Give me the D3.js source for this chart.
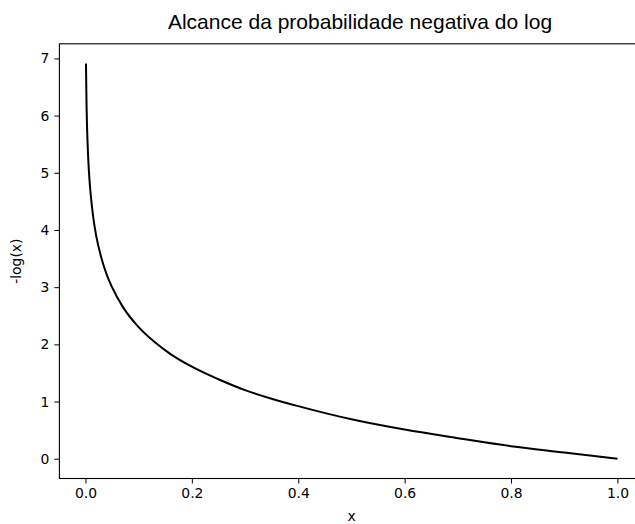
<!DOCTYPE html>
<html>
<head>
<meta charset="utf-8">
<script src="https://cdn.jsdelivr.net/npm/d3@7"></script>
<style>
html,body{margin:0;padding:0;background:#fff;}
svg{display:block;font-family:"DejaVu Sans",sans-serif;}
</style>
</head>
<body>
<svg id="chart" width="635" height="524"></svg>
<script>
// Values
const xValues = [0.001, 0.002, 0.003, 0.005, 0.0075, 0.01, 0.015, 0.02, 0.03, 0.04, 0.05, 0.07, 0.1, 0.13, 0.16, 0.2, 0.25, 0.3, 0.35, 0.4, 0.5, 0.6, 0.7, 0.8, 0.9, 1.0];
const yValues = [6.91, 6.21, 5.81, 5.30, 4.89, 4.61, 4.20, 3.91, 3.51, 3.22, 3.00, 2.66, 2.30, 2.04, 1.83, 1.61, 1.39, 1.20, 1.05, 0.92, 0.69, 0.51, 0.36, 0.22, 0.11, 0.00];
const xTicks = [0.0, 0.2, 0.4, 0.6, 0.8, 1.0];
const yTicks = [0, 1, 2, 3, 4, 5, 6, 7];
const titleText = "Alcance da probabilidade negativa do log";
const xLabel = "x";
const yLabel = "-log(x)";

const svg = d3.select("#chart");
const mLeft = 59.4, mRight = 644, mTop = 43.8, mBottom = 478.5;

const xMin = d3.min(xValues), xMax = d3.max(xValues);
const xPad = (xMax - xMin) * 0.05;
const yMin = d3.min(yValues), yMax = d3.max(yValues);
const yPad = (yMax - yMin) * 0.05;

const x = d3.scaleLinear().domain([xMin - xPad, xMax + xPad]).range([mLeft, mRight]);
const y = d3.scaleLinear().domain([yMin - yPad, yMax + yPad]).range([mBottom, mTop]);

const data = xValues.map((v, i) => ({x: v, y: yValues[i]}));

svg.append("path")
  .datum(data)
  .attr("fill", "none")
  .attr("stroke", "#000")
  .attr("stroke-width", 2)
  .attr("stroke-linejoin", "round")
  .attr("stroke-linecap", "butt")
  .attr("d", d3.line().x(d => x(d.x)).y(d => y(d.y)).curve(d3.curveMonotoneX));

const xAxis = d3.axisBottom(x).tickValues(xTicks).tickFormat(d3.format(".1f")).tickSize(5).tickPadding(5).tickSizeOuter(0);
const yAxis = d3.axisLeft(y).tickValues(yTicks).tickFormat(d3.format("d")).tickSize(5).tickPadding(5).tickSizeOuter(0);

const gx = svg.append("g").attr("transform", `translate(0,${mBottom})`).call(xAxis);
const gy = svg.append("g").attr("transform", `translate(${mLeft},0)`).call(yAxis);
[gx, gy].forEach(g => {
  g.select(".domain").remove();
  g.selectAll(".tick line").attr("stroke", "#000").attr("stroke-width", 1);
  g.selectAll(".tick text").attr("fill", "#000").style("font-size", "13.9px").style("font-family", "'DejaVu Sans', sans-serif");
});

// spines
svg.append("rect")
  .attr("x", mLeft).attr("y", mTop)
  .attr("width", mRight - mLeft).attr("height", mBottom - mTop)
  .attr("fill", "none").attr("stroke", "#000").attr("stroke-width", 1.1);

svg.append("text")
  .attr("x", 360).attr("y", 28.5)
  .attr("text-anchor", "middle")
  .style("font-family", "'Liberation Sans', Arial, sans-serif")
  .style("font-size", "21px")
  .attr("fill", "#000")
  .text(titleText);

svg.append("text")
  .attr("x", (mLeft + mRight) / 2).attr("y", 521)
  .attr("text-anchor", "middle")
  .style("font-size", "13.9px")
  .attr("fill", "#000")
  .text(xLabel);

svg.append("text")
  .attr("transform", `translate(21,${(mTop + mBottom) / 2}) rotate(-90)`)
  .attr("text-anchor", "middle")
  .style("font-size", "13.9px")
  .attr("fill", "#000")
  .text(yLabel);
</script>
</body>
</html>
